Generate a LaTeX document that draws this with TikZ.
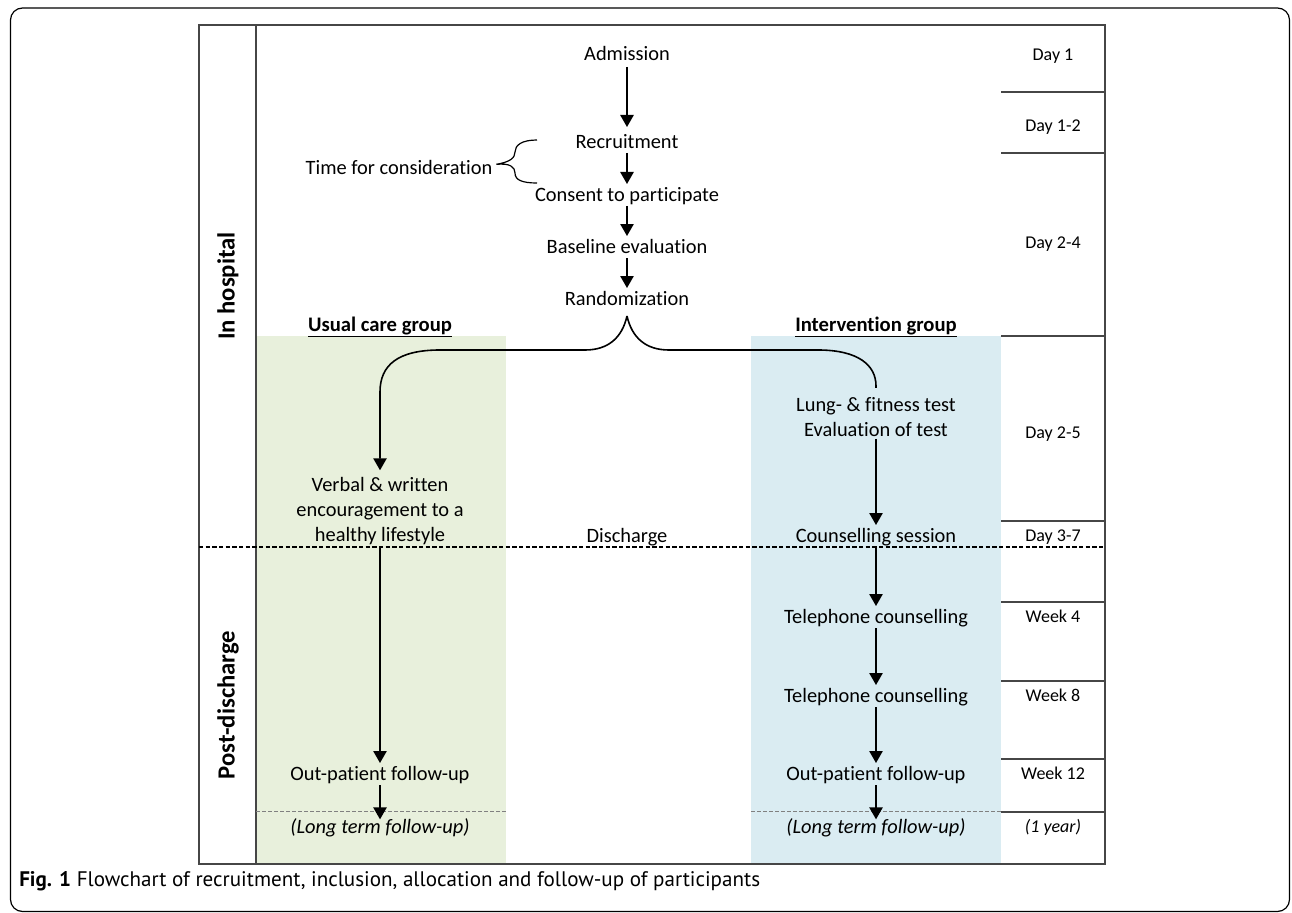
\documentclass[tikz,border=0pt]{standalone}
\usepackage{fontspec}
\setmainfont{Carlito}[Ligatures=NoCommon]
\newfontfamily\capfont{PT Sans}
\usetikzlibrary{arrows.meta}
\definecolor{greenband}{RGB}{232,240,220}
\definecolor{blueband}{RGB}{218,236,242}
\definecolor{gridgray}{RGB}{70,70,70}
\begin{document}
\begin{tikzpicture}[x=0.75pt,y=-0.75pt,
  txt/.style={inner sep=0pt, outer sep=0pt, font=\fontsize{15.3}{19}\selectfont, text height=13pt, text depth=2pt},
  mtxt/.style={inner sep=0pt, outer sep=0pt, font=\fontsize{15.3}{19}\selectfont, align=center},
  itxt/.style={txt, font=\fontsize{15.3}{19}\selectfont\itshape},
  tlab/.style={inner sep=0pt, font=\fontsize{13.5}{16}\selectfont, text height=11.5pt, text depth=1.5pt},
  tlabi/.style={tlab, font=\fontsize{13.5}{16}\selectfont\itshape},
  grp/.style={inner sep=0pt, font=\fontsize{15.5}{18}\selectfont\bfseries},
  side/.style={inner sep=0pt, rotate=90, font=\fontsize{18.5}{22}\selectfont\bfseries},
  arr/.style={-{Triangle[width=10pt,length=9pt]}, line width=1.2pt, shorten <=1.5pt},
  conn/.style={line width=1.2pt},
  grid/.style={draw=gridgray, line width=0.9pt},
  discharge/.style={line width=1pt, dash pattern=on 3.2pt off 1.8pt},
  thindash/.style={draw=gray, line width=0.5pt, dash pattern=on 3pt off 1.5pt},
  brace/.style={line width=0.9pt}
]
\useasboundingbox (0,0) rectangle (1292,913);
% outer frame
\draw[line width=0.9pt, rounded corners=9pt] (10.5,8) rectangle (1289.5,911.5);
% colour bands
\fill[greenband] (256,336) rectangle (506,864);
\fill[blueband] (751,336) rectangle (1001,864);
% table frame
\draw[grid] (199,25) rectangle (1105,864);
\draw[grid] (256,25) -- (256,864);
\foreach \yy in {92,153,336,521,602,681,759,812}
  \draw[grid] (1001,\yy) -- (1105,\yy);
\draw[thindash] (256,811) -- (506,811);
\draw[thindash] (751,811) -- (1001,811);
\draw[discharge] (199,547) -- (1105,547);

% side labels
\node[side] (inh) at (228,286) {In hospital};
\node[side] (post) at (228,705) {Post-discharge};

% time labels
\node[tlab] (t1) at (1053,54) {Day 1};
\node[tlab] (t2) at (1053,125) {Day 1-2};
\node[tlab] (t3) at (1053,242) {Day 2-4};
\node[tlab] (t4) at (1053,432) {Day 2-5};
\node[tlab] (t5) at (1053,535) {Day 3-7};
\node[tlab] (t6) at (1053,616) {Week 4};
\node[tlab] (t7) at (1053,695) {Week 8};
\node[tlab] (t8) at (1053,773) {Week 12};
\node[tlabi] (t9) at (1053,826) {(1 year)};

% centre column
\node[txt] (adm) at (627,53) {Admission};
\node[txt] (rec) at (627,141) {Recruitment};
\node[txt] (con) at (627,194) {Consent to participate};
\node[txt] (base) at (627,246) {Baseline evaluation};
\node[txt] (rand) at (627,298) {Randomization};
\node[txt] (tfc) at (399,167) {Time for consideration};
\node[txt] (dis) at (627,535) {Discharge};

\draw[arr, shorten <=3pt, shorten >=3pt] (adm) -- (rec);
\draw[arr] (rec) -- (con);
\draw[arr] (con) -- (base);
\draw[arr] (base) -- (rand);

% consideration brace
\coordinate (btipL) at ([xshift=3pt,yshift=2pt]tfc.east);
\draw[brace] (537,140) .. controls (522,140) and (515,145) .. (515,152)
  .. controls (515,158) and (510,162) .. (btipL)
  .. controls (510,163) and (515,167) .. (515,173)
  .. controls (515,180) and (522,183) .. (537,183);

% groups
\node[grp] (ucg) at (380,327) {\underline{Usual care group}};
\node[grp] (ig) at (876,327) {\underline{Intervention group}};

% usual care column
\node[mtxt] (verb) at (380,511) {Verbal \& written\\encouragement to a\\healthy lifestyle};
\node[txt] (uop) at (380,773) {Out-patient follow-up};
\node[itxt] (ult) at (380,826) {(Long term follow-up)};

% intervention column
\node[mtxt] (lung) at (876,417) {Lung- \& fitness test\\Evaluation of test};
\node[txt] (cs) at (876,535) {Counselling session};
\node[txt] (tel1) at (876,616) {Telephone counselling};
\node[txt] (tel2) at (876,695) {Telephone counselling};
\node[txt] (iop) at (876,773) {Out-patient follow-up};
\node[itxt] (ilt) at (876,826) {(Long term follow-up)};

% randomization brace
\coordinate (rtip) at ([yshift=-6pt]rand.south);
\draw[conn, -{Triangle[width=10pt,length=9pt]}] (rtip) .. controls (622,338) and (608,350) .. (585,350)
  -- (440,350) .. controls (398,350) and (380,365) .. (380,392) -- ([yshift=5pt]verb.north);
\draw[conn] (rtip) .. controls (632,338) and (646,350) .. (669,350)
  -- (818,350) .. controls (858,350) and (876,365) .. (876,386) -- ([yshift=7pt]lung.north);

\draw[arr] (verb) -- (uop);
\draw[arr, shorten >=-2.5pt] (uop) -- (ult);
\draw[arr] (lung) -- (cs);
\draw[arr] (cs) -- (tel1);
\draw[arr] (tel1) -- (tel2);
\draw[arr] (tel2) -- (iop);
\draw[arr, shorten >=-2.5pt] (iop) -- (ilt);

% caption
\node[anchor=west, inner sep=0pt, font=\capfont\fontsize{15.8}{18}\selectfont] (cap) at (19,881)
  {\textbf{Fig. 1} Flowchart of recruitment, inclusion, allocation and follow-up of participants};
\end{tikzpicture}
\end{document}
